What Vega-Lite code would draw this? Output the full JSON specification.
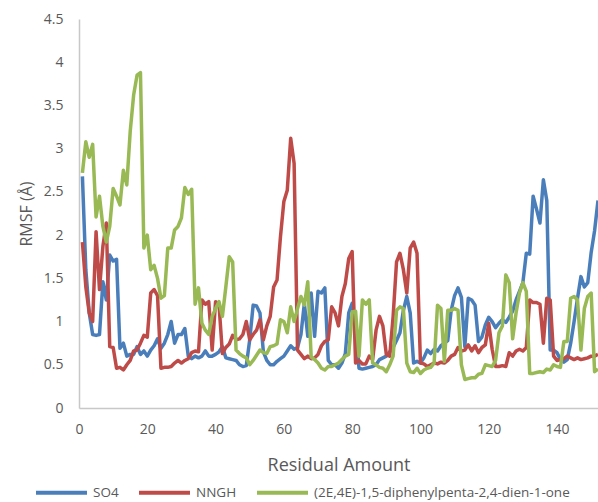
{
"$schema": "https://vega.github.io/schema/vega-lite/v6.json",
"width": 519, "height": 389,
"autosize": {"type": "none"},
"padding": {"left": 79, "top": 19, "right": 0, "bottom": 94},
"background": "white",
"config": {"view": {"stroke": null}, "font": "Open Sans"},
"data": {"values": [
{"r":1,"s":"SO4","v":2.68},{"r":2,"s":"SO4","v":1.6},{"r":3,"s":"SO4","v":1.1},{"r":4,"s":"SO4","v":0.85},{"r":5,"s":"SO4","v":0.84},{"r":6,"s":"SO4","v":0.85},{"r":7,"s":"SO4","v":1.46},{"r":8,"s":"SO4","v":1.25},{"r":9,"s":"SO4","v":1.77},{"r":10,"s":"SO4","v":1.7},
{"r":11,"s":"SO4","v":1.72},{"r":12,"s":"SO4","v":0.69},{"r":13,"s":"SO4","v":0.75},{"r":14,"s":"SO4","v":0.6},{"r":15,"s":"SO4","v":0.62},{"r":16,"s":"SO4","v":0.62},{"r":17,"s":"SO4","v":0.71},{"r":18,"s":"SO4","v":0.62},{"r":19,"s":"SO4","v":0.66},{"r":20,"s":"SO4","v":0.6},
{"r":21,"s":"SO4","v":0.67},{"r":22,"s":"SO4","v":0.72},{"r":23,"s":"SO4","v":0.8},{"r":24,"s":"SO4","v":0.69},{"r":25,"s":"SO4","v":0.75},{"r":26,"s":"SO4","v":0.85},{"r":27,"s":"SO4","v":1.0},{"r":28,"s":"SO4","v":0.75},{"r":29,"s":"SO4","v":0.85},{"r":30,"s":"SO4","v":0.85},
{"r":31,"s":"SO4","v":0.92},{"r":32,"s":"SO4","v":0.6},{"r":33,"s":"SO4","v":0.57},{"r":34,"s":"SO4","v":0.6},{"r":35,"s":"SO4","v":0.58},{"r":36,"s":"SO4","v":0.6},{"r":37,"s":"SO4","v":0.66},{"r":38,"s":"SO4","v":0.6},{"r":39,"s":"SO4","v":0.6},{"r":40,"s":"SO4","v":0.62},
{"r":41,"s":"SO4","v":0.65},{"r":42,"s":"SO4","v":0.71},{"r":43,"s":"SO4","v":0.58},{"r":44,"s":"SO4","v":0.57},{"r":45,"s":"SO4","v":0.56},{"r":46,"s":"SO4","v":0.55},{"r":47,"s":"SO4","v":0.5},{"r":48,"s":"SO4","v":0.48},{"r":49,"s":"SO4","v":0.49},{"r":50,"s":"SO4","v":0.79},
{"r":51,"s":"SO4","v":1.19},{"r":52,"s":"SO4","v":1.18},{"r":53,"s":"SO4","v":1.1},{"r":54,"s":"SO4","v":0.65},{"r":55,"s":"SO4","v":0.55},{"r":56,"s":"SO4","v":0.5},{"r":57,"s":"SO4","v":0.5},{"r":58,"s":"SO4","v":0.54},{"r":59,"s":"SO4","v":0.57},{"r":60,"s":"SO4","v":0.6},
{"r":61,"s":"SO4","v":0.66},{"r":62,"s":"SO4","v":0.72},{"r":63,"s":"SO4","v":0.68},{"r":64,"s":"SO4","v":0.7},{"r":65,"s":"SO4","v":0.85},{"r":66,"s":"SO4","v":1.21},{"r":67,"s":"SO4","v":0.83},{"r":68,"s":"SO4","v":1.33},{"r":69,"s":"SO4","v":0.83},{"r":70,"s":"SO4","v":1.35},
{"r":71,"s":"SO4","v":1.33},{"r":72,"s":"SO4","v":1.39},{"r":73,"s":"SO4","v":0.55},{"r":74,"s":"SO4","v":0.5},{"r":75,"s":"SO4","v":0.5},{"r":76,"s":"SO4","v":0.46},{"r":77,"s":"SO4","v":0.52},{"r":78,"s":"SO4","v":0.63},{"r":79,"s":"SO4","v":1.1},{"r":80,"s":"SO4","v":1.21},
{"r":81,"s":"SO4","v":1.0},{"r":82,"s":"SO4","v":0.46},{"r":83,"s":"SO4","v":0.45},{"r":84,"s":"SO4","v":0.46},{"r":85,"s":"SO4","v":0.47},{"r":86,"s":"SO4","v":0.48},{"r":87,"s":"SO4","v":0.5},{"r":88,"s":"SO4","v":0.56},{"r":89,"s":"SO4","v":0.58},{"r":90,"s":"SO4","v":0.6},
{"r":91,"s":"SO4","v":0.65},{"r":92,"s":"SO4","v":0.7},{"r":93,"s":"SO4","v":0.78},{"r":94,"s":"SO4","v":0.87},{"r":95,"s":"SO4","v":1.13},{"r":96,"s":"SO4","v":1.29},{"r":97,"s":"SO4","v":1.1},{"r":98,"s":"SO4","v":0.52},{"r":99,"s":"SO4","v":0.54},{"r":100,"s":"SO4","v":0.52},
{"r":101,"s":"SO4","v":0.58},{"r":102,"s":"SO4","v":0.67},{"r":103,"s":"SO4","v":0.63},{"r":104,"s":"SO4","v":0.68},{"r":105,"s":"SO4","v":0.66},{"r":106,"s":"SO4","v":0.72},{"r":107,"s":"SO4","v":0.75},{"r":108,"s":"SO4","v":0.78},{"r":109,"s":"SO4","v":1.13},{"r":110,"s":"SO4","v":1.3},
{"r":111,"s":"SO4","v":1.39},{"r":112,"s":"SO4","v":1.28},{"r":113,"s":"SO4","v":0.71},{"r":114,"s":"SO4","v":1.27},{"r":115,"s":"SO4","v":1.25},{"r":116,"s":"SO4","v":1.19},{"r":117,"s":"SO4","v":0.77},{"r":118,"s":"SO4","v":0.82},{"r":119,"s":"SO4","v":0.96},{"r":120,"s":"SO4","v":1.05},
{"r":121,"s":"SO4","v":1.0},{"r":122,"s":"SO4","v":0.93},{"r":123,"s":"SO4","v":0.98},{"r":124,"s":"SO4","v":1.02},{"r":125,"s":"SO4","v":0.99},{"r":126,"s":"SO4","v":1.05},{"r":127,"s":"SO4","v":1.12},{"r":128,"s":"SO4","v":1.25},{"r":129,"s":"SO4","v":1.35},{"r":130,"s":"SO4","v":1.45},
{"r":131,"s":"SO4","v":1.79},{"r":132,"s":"SO4","v":1.78},{"r":133,"s":"SO4","v":2.45},{"r":134,"s":"SO4","v":2.3},{"r":135,"s":"SO4","v":2.14},{"r":136,"s":"SO4","v":2.64},{"r":137,"s":"SO4","v":2.4},{"r":138,"s":"SO4","v":0.67},{"r":139,"s":"SO4","v":0.67},{"r":140,"s":"SO4","v":0.64},
{"r":141,"s":"SO4","v":0.56},{"r":142,"s":"SO4","v":0.53},{"r":143,"s":"SO4","v":0.56},{"r":144,"s":"SO4","v":0.75},{"r":145,"s":"SO4","v":1.0},{"r":146,"s":"SO4","v":1.27},{"r":147,"s":"SO4","v":1.52},{"r":148,"s":"SO4","v":1.4},{"r":149,"s":"SO4","v":1.45},{"r":150,"s":"SO4","v":1.8},
{"r":151,"s":"SO4","v":2.05},{"r":152,"s":"SO4","v":2.4},
{"r":1,"s":"NNGH","v":1.92},{"r":2,"s":"NNGH","v":1.4},{"r":3,"s":"NNGH","v":1.1},{"r":4,"s":"NNGH","v":1.0},{"r":5,"s":"NNGH","v":2.04},{"r":6,"s":"NNGH","v":1.37},{"r":7,"s":"NNGH","v":1.87},{"r":8,"s":"NNGH","v":2.14},{"r":9,"s":"NNGH","v":0.71},{"r":10,"s":"NNGH","v":0.7},
{"r":11,"s":"NNGH","v":0.46},{"r":12,"s":"NNGH","v":0.47},{"r":13,"s":"NNGH","v":0.44},{"r":14,"s":"NNGH","v":0.5},{"r":15,"s":"NNGH","v":0.55},{"r":16,"s":"NNGH","v":0.66},{"r":17,"s":"NNGH","v":0.67},{"r":18,"s":"NNGH","v":0.75},{"r":19,"s":"NNGH","v":0.84},{"r":20,"s":"NNGH","v":0.82},
{"r":21,"s":"NNGH","v":1.33},{"r":22,"s":"NNGH","v":1.37},{"r":23,"s":"NNGH","v":1.3},{"r":24,"s":"NNGH","v":0.46},{"r":25,"s":"NNGH","v":0.47},{"r":26,"s":"NNGH","v":0.47},{"r":27,"s":"NNGH","v":0.48},{"r":28,"s":"NNGH","v":0.52},{"r":29,"s":"NNGH","v":0.55},{"r":30,"s":"NNGH","v":0.52},
{"r":31,"s":"NNGH","v":0.55},{"r":32,"s":"NNGH","v":0.57},{"r":33,"s":"NNGH","v":0.64},{"r":34,"s":"NNGH","v":0.66},{"r":35,"s":"NNGH","v":0.65},{"r":36,"s":"NNGH","v":1.25},{"r":37,"s":"NNGH","v":1.2},{"r":38,"s":"NNGH","v":1.23},{"r":39,"s":"NNGH","v":0.67},{"r":40,"s":"NNGH","v":1.23},
{"r":41,"s":"NNGH","v":1.2},{"r":42,"s":"NNGH","v":0.63},{"r":43,"s":"NNGH","v":0.7},{"r":44,"s":"NNGH","v":0.74},{"r":45,"s":"NNGH","v":0.84},{"r":46,"s":"NNGH","v":0.79},{"r":47,"s":"NNGH","v":0.8},{"r":48,"s":"NNGH","v":0.85},{"r":49,"s":"NNGH","v":1.0},{"r":50,"s":"NNGH","v":0.79},
{"r":51,"s":"NNGH","v":0.85},{"r":52,"s":"NNGH","v":0.9},{"r":53,"s":"NNGH","v":1.02},{"r":54,"s":"NNGH","v":0.79},{"r":55,"s":"NNGH","v":0.95},{"r":56,"s":"NNGH","v":1.06},{"r":57,"s":"NNGH","v":1.4},{"r":58,"s":"NNGH","v":1.48},{"r":59,"s":"NNGH","v":1.98},{"r":60,"s":"NNGH","v":2.39},
{"r":61,"s":"NNGH","v":2.52},{"r":62,"s":"NNGH","v":3.12},{"r":63,"s":"NNGH","v":2.83},{"r":64,"s":"NNGH","v":0.67},{"r":65,"s":"NNGH","v":0.62},{"r":66,"s":"NNGH","v":0.57},{"r":67,"s":"NNGH","v":0.6},{"r":68,"s":"NNGH","v":0.57},{"r":69,"s":"NNGH","v":0.58},{"r":70,"s":"NNGH","v":0.62},
{"r":71,"s":"NNGH","v":0.72},{"r":72,"s":"NNGH","v":0.77},{"r":73,"s":"NNGH","v":0.79},{"r":74,"s":"NNGH","v":1.17},{"r":75,"s":"NNGH","v":1.1},{"r":76,"s":"NNGH","v":0.95},{"r":77,"s":"NNGH","v":1.29},{"r":78,"s":"NNGH","v":1.44},{"r":79,"s":"NNGH","v":1.73},{"r":80,"s":"NNGH","v":1.81},
{"r":81,"s":"NNGH","v":0.52},{"r":82,"s":"NNGH","v":0.55},{"r":83,"s":"NNGH","v":0.51},{"r":84,"s":"NNGH","v":0.51},{"r":85,"s":"NNGH","v":0.6},{"r":86,"s":"NNGH","v":0.56},{"r":87,"s":"NNGH","v":0.9},{"r":88,"s":"NNGH","v":1.06},{"r":89,"s":"NNGH","v":0.95},{"r":90,"s":"NNGH","v":0.62},
{"r":91,"s":"NNGH","v":0.6},{"r":92,"s":"NNGH","v":1.06},{"r":93,"s":"NNGH","v":1.69},{"r":94,"s":"NNGH","v":1.79},{"r":95,"s":"NNGH","v":1.6},{"r":96,"s":"NNGH","v":1.33},{"r":97,"s":"NNGH","v":1.85},{"r":98,"s":"NNGH","v":1.92},{"r":99,"s":"NNGH","v":1.79},{"r":100,"s":"NNGH","v":0.52},
{"r":101,"s":"NNGH","v":0.51},{"r":102,"s":"NNGH","v":0.48},{"r":103,"s":"NNGH","v":0.5},{"r":104,"s":"NNGH","v":0.52},{"r":105,"s":"NNGH","v":0.51},{"r":106,"s":"NNGH","v":0.53},{"r":107,"s":"NNGH","v":0.52},{"r":108,"s":"NNGH","v":0.55},{"r":109,"s":"NNGH","v":0.6},{"r":110,"s":"NNGH","v":0.62},
{"r":111,"s":"NNGH","v":0.7},{"r":112,"s":"NNGH","v":0.66},{"r":113,"s":"NNGH","v":0.67},{"r":114,"s":"NNGH","v":0.73},{"r":115,"s":"NNGH","v":0.66},{"r":116,"s":"NNGH","v":0.72},{"r":117,"s":"NNGH","v":0.64},{"r":118,"s":"NNGH","v":0.7},{"r":119,"s":"NNGH","v":0.73},{"r":120,"s":"NNGH","v":0.98},
{"r":121,"s":"NNGH","v":0.68},{"r":122,"s":"NNGH","v":0.48},{"r":123,"s":"NNGH","v":0.48},{"r":124,"s":"NNGH","v":0.49},{"r":125,"s":"NNGH","v":0.48},{"r":126,"s":"NNGH","v":0.64},{"r":127,"s":"NNGH","v":0.6},{"r":128,"s":"NNGH","v":0.66},{"r":129,"s":"NNGH","v":0.68},{"r":130,"s":"NNGH","v":0.66},
{"r":131,"s":"NNGH","v":0.7},{"r":132,"s":"NNGH","v":1.25},{"r":133,"s":"NNGH","v":1.22},{"r":134,"s":"NNGH","v":1.22},{"r":135,"s":"NNGH","v":1.2},{"r":136,"s":"NNGH","v":0.75},{"r":137,"s":"NNGH","v":1.27},{"r":138,"s":"NNGH","v":1.25},{"r":139,"s":"NNGH","v":0.6},{"r":140,"s":"NNGH","v":0.55},
{"r":141,"s":"NNGH","v":0.56},{"r":142,"s":"NNGH","v":0.57},{"r":143,"s":"NNGH","v":0.6},{"r":144,"s":"NNGH","v":0.58},{"r":145,"s":"NNGH","v":0.56},{"r":146,"s":"NNGH","v":0.58},{"r":147,"s":"NNGH","v":0.56},{"r":148,"s":"NNGH","v":0.57},{"r":149,"s":"NNGH","v":0.58},{"r":150,"s":"NNGH","v":0.6},
{"r":151,"s":"NNGH","v":0.6},{"r":152,"s":"NNGH","v":0.62},
{"r":1,"s":"D","v":2.72},{"r":2,"s":"D","v":3.08},{"r":3,"s":"D","v":2.9},{"r":4,"s":"D","v":3.05},{"r":5,"s":"D","v":2.21},{"r":6,"s":"D","v":2.45},{"r":7,"s":"D","v":2.1},{"r":8,"s":"D","v":1.92},{"r":9,"s":"D","v":2.1},{"r":10,"s":"D","v":2.54},
{"r":11,"s":"D","v":2.45},{"r":12,"s":"D","v":2.35},{"r":13,"s":"D","v":2.75},{"r":14,"s":"D","v":2.58},{"r":15,"s":"D","v":3.2},{"r":16,"s":"D","v":3.62},{"r":17,"s":"D","v":3.85},{"r":18,"s":"D","v":3.88},{"r":19,"s":"D","v":1.85},{"r":20,"s":"D","v":2.0},
{"r":21,"s":"D","v":1.6},{"r":22,"s":"D","v":1.65},{"r":23,"s":"D","v":1.5},{"r":24,"s":"D","v":1.27},{"r":25,"s":"D","v":1.3},{"r":26,"s":"D","v":1.85},{"r":27,"s":"D","v":1.85},{"r":28,"s":"D","v":2.06},{"r":29,"s":"D","v":2.1},{"r":30,"s":"D","v":2.2},
{"r":31,"s":"D","v":2.55},{"r":32,"s":"D","v":2.47},{"r":33,"s":"D","v":2.53},{"r":34,"s":"D","v":1.2},{"r":35,"s":"D","v":1.39},{"r":36,"s":"D","v":0.98},{"r":37,"s":"D","v":0.9},{"r":38,"s":"D","v":0.85},{"r":39,"s":"D","v":1.06},{"r":40,"s":"D","v":1.15},
{"r":41,"s":"D","v":1.23},{"r":42,"s":"D","v":1.06},{"r":43,"s":"D","v":1.4},{"r":44,"s":"D","v":1.75},{"r":45,"s":"D","v":1.69},{"r":46,"s":"D","v":0.67},{"r":47,"s":"D","v":0.63},{"r":48,"s":"D","v":0.6},{"r":49,"s":"D","v":0.58},{"r":50,"s":"D","v":0.5},
{"r":51,"s":"D","v":0.55},{"r":52,"s":"D","v":0.61},{"r":53,"s":"D","v":0.67},{"r":54,"s":"D","v":0.64},{"r":55,"s":"D","v":0.63},{"r":56,"s":"D","v":0.71},{"r":57,"s":"D","v":0.72},{"r":58,"s":"D","v":0.74},{"r":59,"s":"D","v":1.02},{"r":60,"s":"D","v":1.0},
{"r":61,"s":"D","v":0.87},{"r":62,"s":"D","v":1.17},{"r":63,"s":"D","v":1.0},{"r":64,"s":"D","v":1.15},{"r":65,"s":"D","v":1.29},{"r":66,"s":"D","v":1.19},{"r":67,"s":"D","v":1.46},{"r":68,"s":"D","v":0.59},{"r":69,"s":"D","v":0.56},{"r":70,"s":"D","v":0.52},
{"r":71,"s":"D","v":0.46},{"r":72,"s":"D","v":0.44},{"r":73,"s":"D","v":0.48},{"r":74,"s":"D","v":0.48},{"r":75,"s":"D","v":0.5},{"r":76,"s":"D","v":0.52},{"r":77,"s":"D","v":0.56},{"r":78,"s":"D","v":0.6},{"r":79,"s":"D","v":0.62},{"r":80,"s":"D","v":1.11},
{"r":81,"s":"D","v":1.12},{"r":82,"s":"D","v":0.6},{"r":83,"s":"D","v":1.25},{"r":84,"s":"D","v":1.2},{"r":85,"s":"D","v":1.25},{"r":86,"s":"D","v":0.52},{"r":87,"s":"D","v":0.5},{"r":88,"s":"D","v":0.47},{"r":89,"s":"D","v":0.46},{"r":90,"s":"D","v":0.42},
{"r":91,"s":"D","v":0.5},{"r":92,"s":"D","v":0.6},{"r":93,"s":"D","v":1.13},{"r":94,"s":"D","v":1.17},{"r":95,"s":"D","v":1.15},{"r":96,"s":"D","v":0.52},{"r":97,"s":"D","v":0.42},{"r":98,"s":"D","v":0.41},{"r":99,"s":"D","v":0.46},{"r":100,"s":"D","v":0.4},
{"r":101,"s":"D","v":0.44},{"r":102,"s":"D","v":0.46},{"r":103,"s":"D","v":0.47},{"r":104,"s":"D","v":0.52},{"r":105,"s":"D","v":1.19},{"r":106,"s":"D","v":1.15},{"r":107,"s":"D","v":0.54},{"r":108,"s":"D","v":1.13},{"r":109,"s":"D","v":1.13},{"r":110,"s":"D","v":1.15},
{"r":111,"s":"D","v":1.13},{"r":112,"s":"D","v":0.5},{"r":113,"s":"D","v":0.33},{"r":114,"s":"D","v":0.34},{"r":115,"s":"D","v":0.35},{"r":116,"s":"D","v":0.35},{"r":117,"s":"D","v":0.39},{"r":118,"s":"D","v":0.4},{"r":119,"s":"D","v":0.5},{"r":120,"s":"D","v":0.49},
{"r":121,"s":"D","v":0.48},{"r":122,"s":"D","v":0.55},{"r":123,"s":"D","v":0.87},{"r":124,"s":"D","v":0.95},{"r":125,"s":"D","v":1.54},{"r":126,"s":"D","v":1.45},{"r":127,"s":"D","v":0.8},{"r":128,"s":"D","v":1.1},{"r":129,"s":"D","v":1.33},{"r":130,"s":"D","v":1.45},
{"r":131,"s":"D","v":1.35},{"r":132,"s":"D","v":0.4},{"r":133,"s":"D","v":0.4},{"r":134,"s":"D","v":0.41},{"r":135,"s":"D","v":0.42},{"r":136,"s":"D","v":0.41},{"r":137,"s":"D","v":0.45},{"r":138,"s":"D","v":0.44},{"r":139,"s":"D","v":0.5},{"r":140,"s":"D","v":0.48},
{"r":141,"s":"D","v":0.47},{"r":142,"s":"D","v":0.77},{"r":143,"s":"D","v":0.77},{"r":144,"s":"D","v":1.27},{"r":145,"s":"D","v":1.29},{"r":146,"s":"D","v":1.25},{"r":147,"s":"D","v":0.67},{"r":148,"s":"D","v":1.15},{"r":149,"s":"D","v":1.29},{"r":150,"s":"D","v":1.33},
{"r":151,"s":"D","v":0.42},{"r":152,"s":"D","v":0.45}
]},
"mark": {"type": "line", "strokeWidth": 3.5, "clip": true, "strokeJoin": "round"},
"encoding": {
  "x": {"field": "r", "type": "quantitative", "scale": {"domain": [0, 152], "nice": false, "zero": false},
        "axis": {"values": [0,20,40,60,80,100,120,140], "title": "Residual Amount", "grid": false, "ticks": false,
                 "domainColor": "#c8c8c8", "domainWidth": 1.5, "labelColor": "#595959", "labelFontSize": 14, "labelPadding": 14,
                 "titleColor": "#595959", "titleFontSize": 18, "titleFontWeight": "normal", "titlePadding": 20, "labelFlush": false}},
  "y": {"field": "v", "type": "quantitative", "scale": {"domain": [0, 4.5], "nice": false},
        "axis": {"values": [0,0.5,1,1.5,2,2.5,3,3.5,4,4.5], "format": ".1~f", "title": "RMSF (Å)", "grid": false, "ticks": false,
                 "domainColor": "#c8c8c8", "domainWidth": 1.5, "labelColor": "#595959", "labelFontSize": 14, "labelPadding": 16,
                 "titleColor": "#595959", "titleFontSize": 16, "titleFontWeight": "normal", "titlePadding": 9}},
  "color": {"field": "s", "type": "nominal",
            "scale": {"domain": ["SO4", "NNGH", "D"], "range": ["#4A7EBB", "#BE4B48", "#98B954"]},
            "legend": {"orient": "none", "legendX": -45, "legendY": 446, "direction": "horizontal", "title": null,
                       "symbolType": "stroke", "symbolSize": 2600, "symbolStrokeWidth": 4, "labelFontSize": 13.5, "labelColor": "#595959",
                       "columnPadding": 12, "labelOffset": 4, "labelLimit": 0,
                       "labelExpr": "datum.label == 'D' ? '(2E,4E)-1,5-diphenylpenta-2,4-dien-1-one' : datum.label"}}
}
}
